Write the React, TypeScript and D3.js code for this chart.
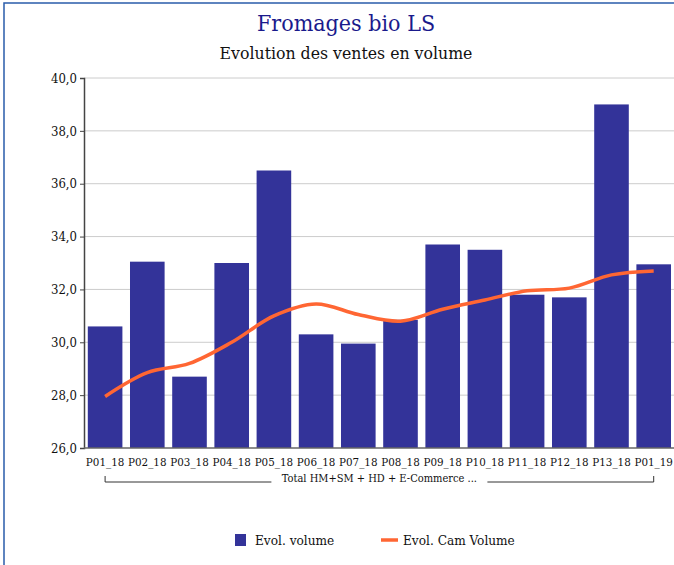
import { useEffect, useRef } from "react";
import * as d3 from "d3";

const categories = ["P01_18", "P02_18", "P03_18", "P04_18", "P05_18", "P06_18", "P07_18", "P08_18", "P09_18", "P10_18", "P11_18", "P12_18", "P13_18", "P01_19"];
const volume = [30.6, 33.05, 28.7, 33.0, 36.5, 30.3, 29.95, 30.85, 33.7, 33.5, 31.8, 31.7, 39.0, 32.95];
const camVolume = [27.95, 28.85, 29.2, 30.0, 31.0, 31.45, 31.05, 30.8, 31.25, 31.6, 31.95, 32.05, 32.55, 32.7];
const yTicks = [26, 28, 30, 32, 34, 36, 38, 40];
const groupLabel = "Total HM+SM + HD + E-Commerce ...";

const FONT = "'DejaVu Serif', serif";

const App = () => {
  const ref = useRef<SVGSVGElement>(null);

  useEffect(() => {
    const svg = d3.select(ref.current);
    svg.selectAll("*").remove();

    const left = 84, top = 78, bottom = 448;
    const step = 42.2;
    const right = left + step * categories.length;

    // cadre
    svg.append("rect")
      .attr("x", 4).attr("y", 3).attr("width", 700).attr("height", 600)
      .attr("fill", "white").attr("stroke", "#2a5caa").attr("stroke-width", 1.5);

    // titres
    svg.append("text")
      .attr("x", 346).attr("y", 31).attr("text-anchor", "middle")
      .attr("font-size", 23).attr("fill", "#1a1a8c").attr("font-stretch", "condensed")
      .text("Fromages bio LS");
    svg.append("text")
      .attr("x", 346).attr("y", 59).attr("text-anchor", "middle")
      .attr("font-size", 17.5).attr("fill", "#111").attr("font-stretch", "condensed")
      .text("Evolution des ventes en volume");

    const x = d3.scaleBand().domain(categories).range([left, right]).paddingInner(0.18).paddingOuter(0.09);
    const y = d3.scaleLinear().domain([26, 40]).range([bottom, top]);

    // grille
    svg.append("g").selectAll("line").data(yTicks.slice(1)).enter().append("line")
      .attr("x1", left).attr("x2", 674)
      .attr("y1", d => y(d)).attr("y2", d => y(d))
      .attr("stroke", "#cccccc").attr("stroke-width", 1);

    // barres
    svg.append("g").selectAll("rect").data(volume).enter().append("rect")
      .attr("x", (d, i) => x(categories[i])!)
      .attr("y", d => y(d))
      .attr("width", x.bandwidth())
      .attr("height", d => bottom - y(d))
      .attr("fill", "#333399");

    // axes
    const yAxis = d3.axisLeft(y).tickValues(yTicks).tickSize(4).tickFormat(d => d3.format(".1f")(d as number).replace(".", ","));
    const gy = svg.append("g").attr("transform", `translate(${left},0)`).call(yAxis);
    gy.select(".domain").attr("stroke", "#444").attr("stroke-width", 1.5);
    gy.selectAll(".tick line").attr("stroke", "#444");
    gy.selectAll("text").attr("font-size", 13).attr("font-family", FONT).attr("fill", "#111").attr("font-stretch", "condensed").attr("x", -7);

    svg.append("line").attr("x1", left).attr("x2", 674).attr("y1", bottom).attr("y2", bottom)
      .attr("stroke", "#666").attr("stroke-width", 1.5);

    // ligne cumul
    const line = d3.line<number>()
      .x((d, i) => x(categories[i])! + x.bandwidth() / 2)
      .y(d => y(d))
      .curve(d3.curveCatmullRom.alpha(0.5));
    svg.append("path").datum(camVolume)
      .attr("fill", "none").attr("stroke", "#ff6633").attr("stroke-width", 3.5)
      .attr("stroke-linejoin", "round")
      .attr("d", line);

    // libellés catégories
    svg.append("g").selectAll("text").data(categories).enter().append("text")
      .attr("x", d => x(d)! + x.bandwidth() / 2)
      .attr("y", 466)
      .attr("text-anchor", "middle")
      .attr("font-size", 11.5).attr("font-stretch", "condensed").attr("fill", "#111")
      .text(d => d);

    // accolade groupe
    const gx1 = x(categories[0])! + x.bandwidth() / 2;
    const gx2 = x(categories[categories.length - 1])! + x.bandwidth() / 2;
    const gmid = (gx1 + gx2) / 2 - 0;
    const bx = 482;
    svg.append("path")
      .attr("d", `M${gx1},${bx - 6}V${bx}H${gmid - 108}M${gmid + 108},${bx}H${gx2}V${bx - 6}`)
      .attr("fill", "none").attr("stroke", "#333").attr("stroke-width", 1);
    svg.append("text")
      .attr("x", gmid).attr("y", 482).attr("text-anchor", "middle")
      .attr("font-size", 11).attr("font-stretch", "condensed").attr("fill", "#111")
      .text(groupLabel);

    // légende
    const leg = svg.append("g");
    leg.append("rect").attr("x", 235).attr("y", 534).attr("width", 11).attr("height", 12).attr("fill", "#333399");
    leg.append("text").attr("x", 255).attr("y", 545).attr("font-size", 13.5).attr("font-stretch", "condensed").attr("fill", "#111").text("Evol. volume");
    leg.append("line").attr("x1", 381).attr("x2", 398).attr("y1", 540).attr("y2", 540).attr("stroke", "#ff6633").attr("stroke-width", 3.5);
    leg.append("text").attr("x", 403).attr("y", 545).attr("font-size", 13.5).attr("font-stretch", "condensed").attr("fill", "#111").text("Evol. Cam Volume");
  }, []);

  return (
    <div style={{ position: "fixed", left: 0, top: 0 }}>
      <svg ref={ref} width={674} height={565} style={{ display: "block", fontFamily: FONT }} />
    </div>
  );
};

export default App;
